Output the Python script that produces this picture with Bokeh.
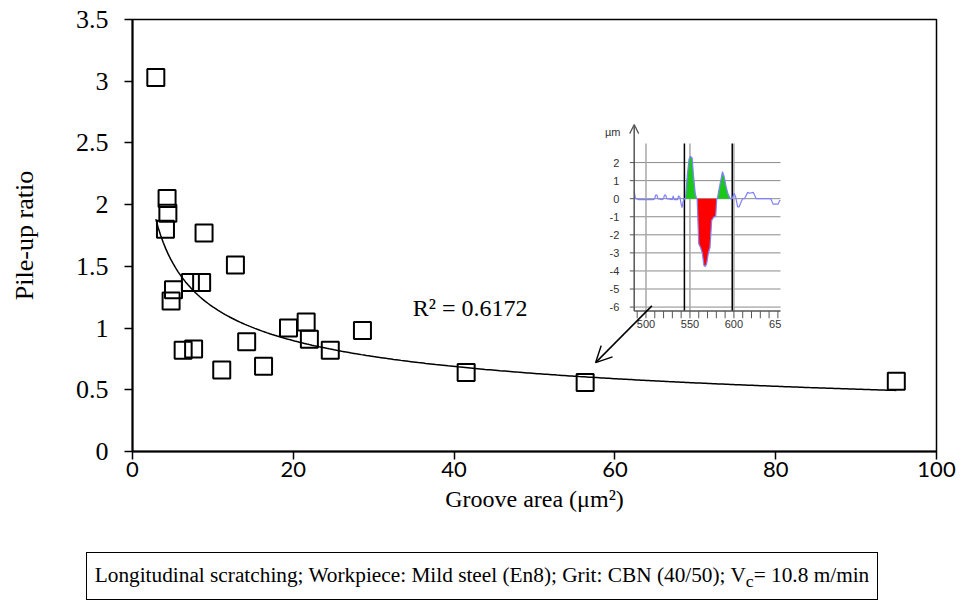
import numpy as np
from bokeh.plotting import figure
from bokeh.models import Range1d, Label, Arrow, OpenHead, Div, FixedTicker, NumeralTickFormatter
from bokeh.layouts import column
from bokeh.embed import file_html
from bokeh.resources import INLINE
from bokeh.core.properties import value

# ---------------- main data ----------------
groove_area = [2.9, 4.3, 4.4, 4.1, 8.9, 12.8, 7.2, 8.6, 5.1, 4.8, 6.3, 7.6,
               11.1, 14.2, 16.3, 19.4, 21.6, 22.0, 24.6, 28.6, 41.5, 56.3, 95.0]
pile_up_ratio = [3.03, 2.05, 1.93, 1.80, 1.77, 1.51, 1.37, 1.37, 1.31, 1.22, 0.82, 0.83,
                 0.66, 0.89, 0.69, 1.00, 1.05, 0.91, 0.82, 0.98, 0.64, 0.56, 0.57]
TREND_A = 2.83      # power trendline y = A * x^B
TREND_B = -0.383
R2_TEXT = "R² = 0.6172"
x_ticks = [0, 20, 40, 60, 80, 100]
y_ticks = [0, 0.5, 1, 1.5, 2, 2.5, 3, 3.5]
CAPTION = ("Longitudinal scratching; Workpiece: Mild steel (En8); Grit: CBN (40/50); "
           "V<sub>c</sub>= 10.8 m/min")

# ---------------- inset profile data ----------------
profile_x = [486.6, 488.0, 492.0, 500.0, 508.0, 510.0, 511.0, 512.5, 513.5, 518.0,
             520.0, 521.0, 522.5, 523.5, 530.0, 531.0, 532.0, 536.0, 537.0, 538.5,
             540.0, 541.0, 542.0, 543.5, 544.8, 547.0, 549.0, 550.6, 552.5, 554.0,
             556.0, 557.5, 558.2, 560.0, 562.0, 564.0, 565.9, 567.5, 569.0, 571.0,
             572.8, 574.7, 577.4, 579.3, 580.5, 581.2, 583.0, 585.0, 587.0, 589.0,
             591.0, 593.0, 595.8, 598.0, 600.3, 602.0, 604.2, 606.0, 608.0, 610.0,
             612.0, 615.7, 618.0, 622.0, 625.3, 627.0, 635.0, 642.0, 644.5, 647.0,
             650.3, 652.0, 653.0]
profile_y = [0.40, 0.02, -0.05, -0.05, -0.05, 0.00, 0.20, 0.20, 0.00, -0.05,
             0.00, 0.20, 0.20, 0.00, -0.05, 0.15, -0.05, -0.05, 0.15, 0.10,
             -0.30, -0.50, -0.20, 0.00, 0.00, 1.30, 2.20, 2.35, 2.25, 1.30,
             0.30, 0.00, 0.00, -2.50, -2.70, -3.00, -3.70, -3.75, -3.60, -3.00,
             -2.70, -1.20, -1.00, -1.00, 0.00, 0.00, 0.50, 1.00, 1.50, 1.20,
             0.70, 0.30, 0.00, 0.00, 0.30, 0.10, -0.45, -0.45, -0.20, 0.00,
             0.00, 0.35, 0.30, 0.35, 0.00, 0.00, 0.00, 0.00, -0.30, -0.30,
             -0.30, -0.10, -0.10]
green_spans = [(544.8, 557.5), (581.2, 595.8)]
red_spans = [(558.2, 580.5)]
inset_y_ticks = [-6, -5, -4, -3, -2, -1, 0, 1, 2]
inset_x_labels = [500, 550, 600]
inset_x_grid = [500, 550, 600]
inset_cut_lines = [543.7, 598.1]
inset_minor_ticks = list(range(490, 651, 10))

# inset placement: main-data box and the inset's own view window
INSET_BOX = (62.4, 80.6, 1.138, 2.496)      # x0, x1, y0, y1 in main units
INSET_VIEW = (486.6, 653.0, -6.22, 3.06)    # x0, x1, y0, y1 in inset units
MAIN_X = (0, 100)
MAIN_Y = (0, 3.5)

SERIF = "Liberation Serif"

p = figure(width=957, height=526, x_range=Range1d(*MAIN_X), y_range=Range1d(*MAIN_Y),
           output_backend="svg", toolbar_location=None,
           min_border_left=132, min_border_top=19, min_border_right=21, min_border_bottom=75)
p.background_fill_color = "white"
p.border_fill_color = "white"
p.outline_line_color = "black"
p.outline_line_width = 1.5
p.xgrid.visible = False
p.ygrid.visible = False

p.xaxis.ticker = FixedTicker(ticks=x_ticks)
p.yaxis.ticker = FixedTicker(ticks=y_ticks)
p.yaxis.formatter = NumeralTickFormatter(format="0.[0]")
for ax in (p.xaxis[0], p.yaxis[0]):
    ax.axis_line_color = "black"
    ax.axis_line_width = 2
    ax.major_tick_line_color = "black"
    ax.major_tick_line_width = 1.5
    ax.major_tick_out = 8
    ax.major_tick_in = 0
    ax.minor_tick_line_color = None
    ax.major_label_text_color = "black"
    ax.axis_label_text_color = "black"
    ax.axis_label_text_font = SERIF
    ax.axis_label_text_font_style = "normal"
    ax.axis_label_text_font_size = "24px"

p.yaxis.major_label_text_font = SERIF
p.yaxis.major_label_text_font_size = "26px"
p.yaxis.major_label_standoff = 16
p.yaxis.axis_label = "Pile-up ratio"
p.yaxis.axis_label_text_font_size = "26px"
p.yaxis.axis_label_standoff = 34

p.xaxis.major_label_text_font = "Lato"
p.xaxis.major_label_text_font_size = "22px"
p.xaxis.major_label_standoff = 2
p.xaxis.axis_label = "Groove area (μm²)"
p.xaxis.axis_label_standoff = 6

# trendline
xs = np.linspace(min(groove_area), max(groove_area), 300)
ys = TREND_A * xs ** TREND_B
p.line(xs, ys, line_color="black", line_width=1.5)

# data points
p.scatter(groove_area, pile_up_ratio, marker="square", size=17, fill_color=None,
          line_color="black", line_width=2)

p.add_layout(Label(x=42.0, y=1.16, text=R2_TEXT, text_font=SERIF, text_font_size="24px",
                   text_align="center", text_baseline="middle", text_color="black"))

p.add_layout(Arrow(end=OpenHead(size=16, line_width=1.5, line_color="black"),
                   x_start=64.6, y_start=1.18, x_end=57.6, y_end=0.72,
                   line_width=1.5, line_color="black"))

# ---------------- inset via extra ranges ----------------
bx0, bx1, by0, by1 = INSET_BOX
vx0, vx1, vy0, vy1 = INSET_VIEW
kx = (bx1 - bx0) / (vx1 - vx0)
ky = (by1 - by0) / (vy1 - vy0)
ix_start = vx0 - (bx0 - MAIN_X[0]) / kx
iy_start = vy0 - (by0 - MAIN_Y[0]) / ky
p.extra_x_ranges = {"ix": Range1d(ix_start, ix_start + (MAIN_X[1] - MAIN_X[0]) / kx)}
p.extra_y_ranges = {"iy": Range1d(iy_start, iy_start + (MAIN_Y[1] - MAIN_Y[0]) / ky)}
R = dict(x_range_name="ix", y_range_name="iy")

p.quad(left=[vx0], right=[vx1], bottom=[vy0], top=[vy1], fill_color="white",
       line_color=None, **R)
p.segment(x0=[vx0] * len(inset_y_ticks), x1=[vx1] * len(inset_y_ticks),
          y0=inset_y_ticks, y1=inset_y_ticks, line_color="#8a8a8a", line_width=1, **R)
p.segment(x0=inset_x_grid, x1=inset_x_grid, y0=[vy0] * len(inset_x_grid),
          y1=[vy1] * len(inset_x_grid), line_color="#a8a8a8", line_width=1.5, **R)
p.segment(x0=inset_cut_lines, x1=inset_cut_lines, y0=[vy0] * len(inset_cut_lines),
          y1=[vy1] * len(inset_cut_lines), line_color="black", line_width=1.5, **R)

px = np.array(profile_x)
py = np.array(profile_y)
for a, b in green_spans:
    m = (px >= a) & (px <= b)
    p.varea(x=px[m], y1=np.zeros(m.sum()), y2=np.clip(py[m], 0, None),
            fill_color="#19c819", **R)
for a, b in red_spans:
    m = (px >= a) & (px <= b)
    p.varea(x=px[m], y1=np.clip(py[m], None, 0), y2=np.zeros(m.sum()),
            fill_color="#ff0000", **R)
p.line(px, py, line_color="#8080ff", line_width=1.2, **R)

p.segment(x0=[vx0], x1=[vx1], y0=[vy0], y1=[vy0], line_color="#555555", line_width=1.5, **R)
p.add_layout(Arrow(end=OpenHead(size=9, line_width=1.2, line_color="#555555"),
                   x_start=vx0, y_start=vy0, x_end=vx0, y_end=4.1,
                   line_width=1.5, line_color="#555555", **R))
p.segment(x0=[vx0 - 5] * len(inset_y_ticks), x1=[vx0] * len(inset_y_ticks),
          y0=inset_y_ticks, y1=inset_y_ticks, line_color="#555555", line_width=1, **R)
p.segment(x0=inset_minor_ticks, x1=inset_minor_ticks, y0=[vy0] * len(inset_minor_ticks),
          y1=[vy0 - 0.4] * len(inset_minor_ticks), line_color="#555555", line_width=1, **R)
p.text(x=[vx0 - 17] * len(inset_y_ticks), y=inset_y_ticks,
       text=[str(t) for t in inset_y_ticks], text_align="right", text_baseline="middle",
       text_font=value("Liberation Sans"), text_font_size="11px", text_color="#333333", **R)
p.text(x=inset_x_labels, y=[-6.95] * len(inset_x_labels),
       text=[str(t) for t in inset_x_labels], text_align="center", text_baseline="middle",
       text_font=value("Liberation Sans"), text_font_size="11px", text_color="#333333", **R)
p.text(x=[640.0], y=[-6.95], text=["65"], text_align="left", text_baseline="middle",
       text_font=value("Liberation Sans"), text_font_size="11px", text_color="#333333", **R)
p.text(x=[471.0], y=[3.72], text=["µm"], text_align="right", text_baseline="middle",
       text_font=value("Liberation Sans"), text_font_size="11px", text_color="#333333", **R)

caption = Div(text=CAPTION, width=792, height=48, margin=(26, 0, 0, 86),
              styles={"border": "1px solid black", "box-sizing": "border-box",
                      "text-align": "center", "font-family": SERIF, "font-size": "21.3px",
                      "line-height": "44px", "color": "black", "background": "white",
                      "white-space": "nowrap"})

layout = column(p, caption)
open("out.html", "w").write(file_html(layout, INLINE))
